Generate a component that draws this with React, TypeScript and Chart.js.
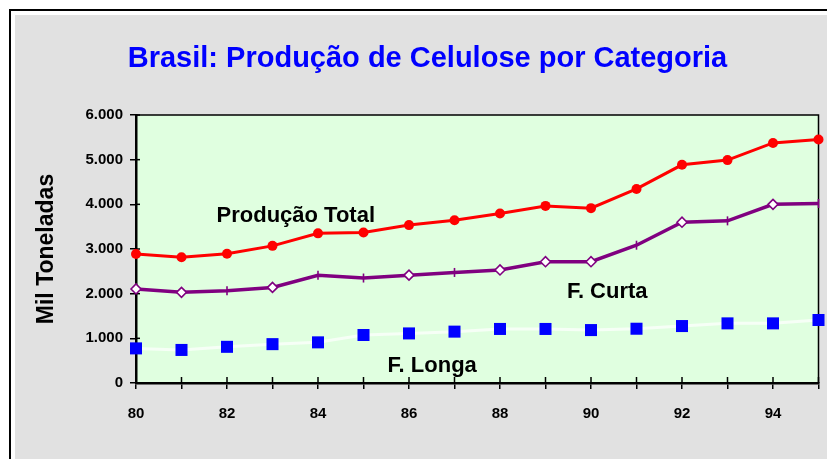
import React, { useEffect, useRef } from "react";
import { Chart, registerables } from "chart.js";

Chart.register(...registerables);

const years = ["80", "81", "82", "83", "84", "85", "86", "87", "88", "89", "90", "91", "92", "93", "94", "95"];
const producaoTotal = [2890, 2815, 2895, 3070, 3350, 3370, 3535, 3645, 3795, 3965, 3915, 4345, 4885, 4990, 5375, 5450];
const fibraCurta = [2105, 2030, 2065, 2140, 2410, 2350, 2415, 2475, 2530, 2715, 2715, 3085, 3600, 3630, 4000, 4020];
const fibraLonga = [775, 740, 810, 870, 910, 1075, 1110, 1150, 1210, 1210, 1185, 1215, 1275, 1335, 1335, 1410];
// d = open diamond, p = vertical tick marker (as drawn in the original)
const curtaMarkers = ["d", "d", "p", "d", "p", "p", "d", "p", "d", "d", "d", "p", "d", "p", "d", "p"];
const yTickLabels = ["0", "1.000", "2.000", "3.000", "4.000", "5.000", "6.000"];

const titleText = "Brasil: Produção de Celulose por Categoria";
const yAxisTitle = "Mil Toneladas";
const seriesLabels = ["Produção Total", "F. Curta", "F. Longa"];
// label anchors in data units: [category index, value]
const labelAnchors: [number, number][] = [
  [1.77, 3600],
  [9.47, 1905],
  [5.53, 255],
];

const FONT = "'Liberation Sans', Arial, Helvetica, sans-serif";

const framePlugin = {
  id: "frame",
  beforeDraw(chart: any) {
    const { ctx, width, height, chartArea } = chart;
    ctx.save();
    ctx.fillStyle = "#ffffff";
    ctx.fillRect(0, 0, width, height);
    ctx.strokeStyle = "#000000";
    ctx.lineWidth = 2;
    ctx.strokeRect(10, 10, width + 20, height + 20);
    ctx.fillStyle = "#e1e1e1";
    ctx.fillRect(15, 15, width, height);
    ctx.fillStyle = "#e0ffe0";
    ctx.fillRect(chartArea.left, chartArea.top, chartArea.right - chartArea.left, chartArea.bottom - chartArea.top);
    ctx.restore();
  },
  beforeDatasetsDraw(chart: any) {
    const { ctx, chartArea, scales } = chart;
    ctx.save();
    ctx.strokeStyle = "#000000";
    ctx.lineWidth = 1.5;
    ctx.beginPath();
    ctx.moveTo(chartArea.left, chartArea.top);
    ctx.lineTo(chartArea.right, chartArea.top);
    ctx.lineTo(chartArea.right, chartArea.bottom);
    ctx.stroke();
    // inner halves of the crossing tick marks
    const xs = scales.x;
    xs.ticks.forEach((_t: any, i: number) => {
      const px = xs.getPixelForTick(i);
      ctx.beginPath();
      ctx.moveTo(px, chartArea.bottom);
      ctx.lineTo(px, chartArea.bottom - 6);
      ctx.stroke();
    });
    const ys = scales.y;
    ys.ticks.forEach((_t: any, i: number) => {
      const py = ys.getPixelForTick(i);
      ctx.beginPath();
      ctx.moveTo(chartArea.left, py);
      ctx.lineTo(chartArea.left + 4, py);
      ctx.stroke();
    });
    ctx.restore();
  },
  afterDatasetsDraw(chart: any) {
    const { ctx, scales } = chart;
    ctx.save();
    ctx.fillStyle = "#000000";
    ctx.font = `bold 22px ${FONT}`;
    ctx.textAlign = "left";
    ctx.textBaseline = "alphabetic";
    seriesLabels.forEach((txt, i) => {
      const [ix, v] = labelAnchors[i];
      const x = scales.x.getPixelForValue(ix);
      const y = scales.y.getPixelForValue(v);
      ctx.fillText(txt, x, y);
    });
    ctx.restore();
  },
};

export default function App() {
  const ref = useRef<HTMLCanvasElement | null>(null);

  useEffect(() => {
    if (!ref.current) return;
    const chart = new Chart(ref.current, {
      type: "line",
      data: {
        labels: years,
        datasets: [
          {
            label: seriesLabels[0],
            data: producaoTotal,
            borderColor: "#ff0000",
            borderWidth: 3,
            pointStyle: "circle",
            pointRadius: 5,
            pointBackgroundColor: "#ff0000",
            pointBorderColor: "#ff0000",
            pointBorderWidth: 0,
            tension: 0,
            clip: false,
          },
          {
            label: seriesLabels[1],
            data: fibraCurta,
            borderColor: "#800080",
            borderWidth: 3.5,
            pointStyle: curtaMarkers.map((m) => (m === "d" ? "rectRot" : "line")) as any,
            pointRotation: curtaMarkers.map((m) => (m === "d" ? 0 : 90)) as any,
            pointRadius: curtaMarkers.map((m) => (m === "d" ? 5 : 4.5)) as any,
            pointBackgroundColor: "#ffffff",
            pointBorderColor: "#800080",
            pointBorderWidth: 1.6,
            tension: 0,
            clip: false,
          },
          {
            label: seriesLabels[2],
            data: fibraLonga,
            borderColor: "#f6fff6",
            borderWidth: 3,
            pointStyle: "rect",
            pointRadius: 8.5,
            pointBackgroundColor: "#0000ff",
            pointBorderColor: "#0000ff",
            pointBorderWidth: 0,
            tension: 0,
            clip: false,
          },
        ],
      },
      options: {
        animation: false,
        responsive: false,
        devicePixelRatio: 1,
        layout: { padding: { left: 34, right: 6, top: 0, bottom: 0 } },
        plugins: {
          legend: { display: false },
          tooltip: { enabled: false },
          title: {
            display: true,
            text: titleText,
            color: "#0000ff",
            font: { family: FONT, size: 29, weight: "bold", lineHeight: 1.2 },
            padding: { top: 42, bottom: 38.2 },
          },
        },
        scales: {
          x: {
            type: "category",
            offset: false,
            afterFit: (s: any) => {
              s.height = 76;
              s.paddingLeft = 0;
              s.paddingRight = 0;
            },
            grid: { drawOnChartArea: false, drawTicks: true, tickLength: 6, color: "#000000", lineWidth: 1.5 },
            border: { color: "#000000", width: 2.5 },
            ticks: {
              autoSkip: false,
              maxRotation: 0,
              padding: 16,
              color: "#000000",
              font: { family: FONT, size: 15, weight: "bold" },
              callback: (_v: any, i: number) => (i % 2 === 0 ? years[i] : ""),
            },
          },
          y: {
            min: 0,
            max: 6000,
            afterFit: (s: any) => {
              s.width = 102;
            },
            grid: { drawOnChartArea: false, drawTicks: true, tickLength: 6, color: "#000000", lineWidth: 1.5 },
            border: { color: "#000000", width: 2.5 },
            ticks: {
              stepSize: 1000,
              padding: 7,
              color: "#000000",
              font: { family: FONT, size: 15, weight: "bold" },
              callback: (v: any) => yTickLabels[Math.round(Number(v) / 1000)],
            },
            title: {
              display: true,
              text: yAxisTitle,
              color: "#000000",
              font: { family: FONT, size: 23, weight: "bold", lineHeight: 1 },
              padding: { top: 1, bottom: 0 },
            },
          },
        },
      },
      plugins: [framePlugin],
    });
    return () => chart.destroy();
  }, []);

  return (
    <div style={{ position: "fixed", left: 0, top: 0, width: 827, height: 459 }}>
      <canvas ref={ref} width={827} height={459} style={{ display: "block" }} />
    </div>
  );
}
